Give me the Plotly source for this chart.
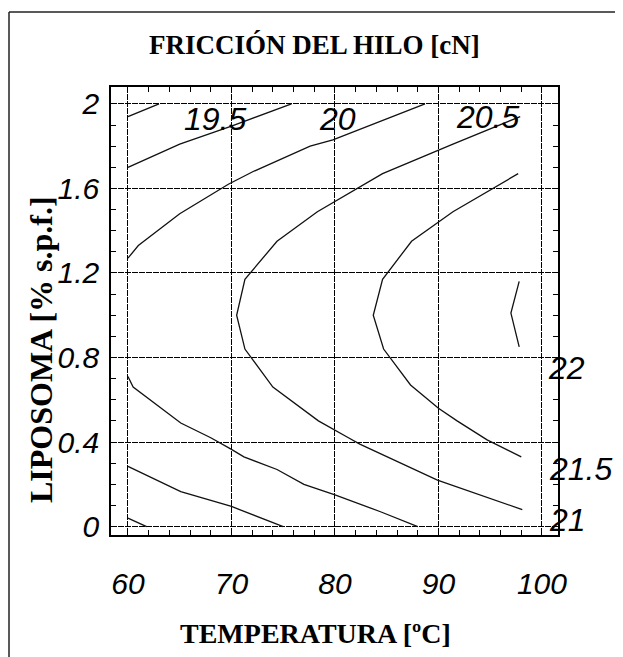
import plotly.graph_objects as go

# ---------------- data ----------------
x_ticks = [60, 70, 80, 90, 100]
x_tick_text = ["60", "70", "80", "90", "100"]
y_ticks = [0, 0.4, 0.8, 1.2, 1.6, 2.0]
y_tick_text = ["0", "0.4", "0.8", "1.2", "1.6", "2"]

# contour polylines (temperature, liposoma) for each level
c195_top_x = [60, 63]
c195_top_y = [1.94, 2.0]
c20_top_x = [60, 65, 70, 75.8]
c20_top_y = [1.70, 1.81, 1.895, 2.0]
c205_top_x = [60, 61, 65, 69.7, 72.1, 77.6, 79.8, 88.7]
c205_top_y = [1.27, 1.33, 1.48, 1.62, 1.68, 1.80, 1.83, 2.0]

c21_x = [97.9, 91.4, 84.6, 82.1, 78.3, 74.4, 71.3, 70.5, 71.3, 74.0, 78.4, 81.3, 82.4, 89.9, 92.8, 98.1]
c21_y = [1.94, 1.81, 1.67, 1.60, 1.49, 1.35, 1.17, 1.00, 0.84, 0.66, 0.50, 0.42, 0.39, 0.22, 0.17, 0.08]
c215_x = [97.7, 95.6, 91.4, 87.4, 84.6, 83.7, 84.7, 87.3, 90.0, 91.8, 94.7, 98.0]
c215_y = [1.67, 1.61, 1.49, 1.35, 1.17, 1.00, 0.84, 0.67, 0.56, 0.50, 0.41, 0.33]
c22_x = [97.8, 97.0, 97.8]
c22_y = [1.16, 1.01, 0.85]

c205_bot_x = [60, 60.5, 65.1, 68.0, 70.0, 71.2, 74.4, 77.0, 80.0, 84.4, 88.0]
c205_bot_y = [0.71, 0.66, 0.49, 0.42, 0.365, 0.33, 0.27, 0.20, 0.15, 0.07, 0.0]
c20_bot_x = [60, 65.1, 70.0, 75.0]
c20_bot_y = [0.285, 0.165, 0.095, 0.0]
c195_bot_x = [60, 61.8]
c195_bot_y = [0.04, 0.0]

contours = [
    (c195_top_x, c195_top_y), (c20_top_x, c20_top_y), (c205_top_x, c205_top_y),
    (c21_x, c21_y), (c215_x, c215_y), (c22_x, c22_y),
    (c205_bot_x, c205_bot_y), (c20_bot_x, c20_bot_y), (c195_bot_x, c195_bot_y),
]

# contour level labels and where they sit
top_labels = ["19.5", "20", "20.5"]
top_label_x = [68.4, 80.2, 94.7]
top_label_y = [1.93, 1.93, 1.94]
right_labels = ["22", "21.5", "21"]
right_label_x = [100.4, 100.5, 100.5]
right_label_y = [0.75, 0.27, 0.03]

title_text = "FRICCIÓN DEL HILO [cN]"
x_title = "TEMPERATURA [ºC]"
y_title = "LIPOSOMA [% s.p.f.]"

# ---------------- figure ----------------
fig = go.Figure()
for cx, cy in contours:
    fig.add_trace(go.Scatter(x=cx, y=cy, mode="lines",
                             line=dict(color="#111111", width=1.3),
                             hoverinfo="skip", showlegend=False))

# page offset of the plot div (browser body margin)
OFF = 8
PAGE_W, PAGE_H = 623, 657
PL, PR, PT, PB = 111, 558, 87, 535   # plot-area edges on the page
W, H = PAGE_W - OFF, PAGE_H - OFF
L, T = PL - OFF, PT - OFF
R, B = PAGE_W - PR, PAGE_H - PB

def px_x(p):
    return (p - PL) / (PR - PL)

def px_y(p):
    return (PB - p) / (PB - PT)

sans = "Liberation Sans, Arial, sans-serif"
serif = "Liberation Serif, Times New Roman, serif"

ann = []
for t, ax_, ay_ in zip(top_labels, top_label_x, top_label_y):
    ann.append(dict(x=ax_, y=ay_, xref="x", yref="y", text=t, showarrow=False,
                    font=dict(family=sans, size=32, color="black", style="italic"),
                    xanchor="center", yanchor="middle"))
for t, ax_, ay_ in zip(right_labels, right_label_x, right_label_y):
    ann.append(dict(x=ax_, y=ay_, xref="x", yref="y", text=t, showarrow=False,
                    font=dict(family=sans, size=32, color="black", style="italic"),
                    xanchor="left", yanchor="middle"))
ann.append(dict(x=px_x(314), y=px_y(45), xref="paper", yref="paper", text=title_text,
                showarrow=False, font=dict(family=serif, size=27, color="black", weight="bold"),
                xanchor="center", yanchor="middle"))
ann.append(dict(x=px_x(315), y=px_y(633), xref="paper", yref="paper", text=x_title,
                showarrow=False, font=dict(family=serif, size=28, color="black", weight="bold"),
                xanchor="center", yanchor="middle"))
ann.append(dict(x=px_x(41), y=px_y(350), xref="paper", yref="paper", text=y_title,
                showarrow=False, textangle=-90,
                font=dict(family=serif, size=32, color="black", weight="bold"),
                xanchor="center", yanchor="middle"))

shapes = [
    dict(type="line", xref="paper", yref="paper", x0=px_x(9), x1=px_x(9), y0=px_y(12), y1=px_y(660),
         line=dict(color="#222", width=1.5)),
    dict(type="line", xref="paper", yref="paper", x0=px_x(9), x1=px_x(620), y0=px_y(12), y1=px_y(12),
         line=dict(color="#222", width=1.5)),
    dict(type="line", xref="paper", yref="paper", x0=px_x(620), x1=px_x(620), y0=px_y(12), y1=px_y(330),
         line=dict(color="#222", width=1.5)),
]

axis_common = dict(
    showline=True, linecolor="black", linewidth=1.5, mirror="ticks",
    showgrid=True, gridcolor="#000000", gridwidth=1, griddash="6px,1px",
    ticks="inside", ticklen=5, tickcolor="black", zeroline=False,
    tickfont=dict(family=sans, size=30, color="black", style="italic"),
)

fig.update_layout(
    width=W, height=H,
    margin=dict(l=L, r=R, t=T, b=B, pad=0),
    paper_bgcolor="white", plot_bgcolor="white",
    annotations=ann, shapes=shapes,
    xaxis=dict(range=[58.36, 101.55], tickmode="array", tickvals=x_ticks, ticktext=x_tick_text,
               ticklabelstandoff=21,
               minor=dict(tick0=60, dtick=2, ticks="inside", ticklen=5, tickcolor="black", showgrid=False),
               **axis_common),
    yaxis=dict(range=[-0.04, 2.08], tickmode="array", tickvals=y_ticks, ticktext=y_tick_text,
               ticklabelstandoff=4,
               minor=dict(tick0=0, dtick=0.1, ticks="inside", ticklen=5, tickcolor="black", showgrid=False),
               **axis_common),
)

fig.write_html("out.html")
